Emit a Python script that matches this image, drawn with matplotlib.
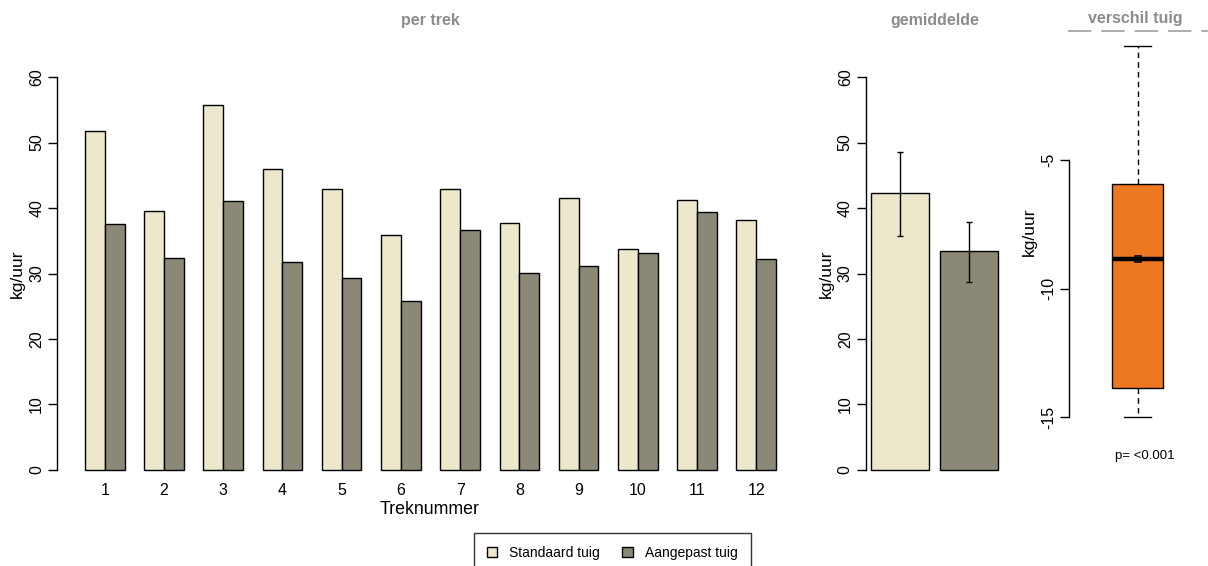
import numpy as np
import matplotlib
matplotlib.use('Agg')
import matplotlib.pyplot as plt
from matplotlib.patches import Patch
from matplotlib.lines import Line2D

plt.rcParams['font.family'] = ['Liberation Sans', 'DejaVu Sans']
plt.rcParams['axes.unicode_minus'] = False

# DATA
treks = [str(i) for i in range(1, 13)]
standaard = [51.7, 39.6, 55.8, 46.0, 42.9, 35.9, 42.9, 37.7, 41.5, 33.8, 41.2, 38.1]
aangepast = [37.5, 32.4, 41.0, 31.8, 29.3, 25.8, 36.7, 30.1, 31.1, 33.2, 39.4, 32.2]
gem_labels = ['Standaard tuig', 'Aangepast tuig']
gem_waarde = [42.3, 33.4]
gem_laag = [35.8, 28.7]
gem_hoog = [48.5, 37.8]
# boxplot of the difference
verschil_stats = dict(med=-8.85, q1=-13.87, q3=-5.94, whislo=-15.0, whishi=-0.57)
verschil_gem = -8.85
p_tekst = 'p= <0.001'

# COLOURS
C_STD = '#EDE7CB'
C_AAN = '#8B8877'
C_ORANJE = '#EE7722'
C_TITEL = '#8C8C8C'

W, H = 1208, 566
fig = plt.figure(figsize=(W / 100, H / 100), dpi=100)


def add_ax(x0, x1, y0, y1):
    # pixel box -> figure fraction
    return fig.add_axes([x0 / W, 1 - y1 / H, (x1 - x0) / W, (y1 - y0) / H])


def style(ax):
    for s in ['top', 'right', 'bottom']:
        ax.spines[s].set_visible(False)
    ax.spines['left'].set_linewidth(1.0)
    ax.tick_params(axis='y', length=6.5, width=1.0, labelsize=11.5, pad=3)
    for lab in ax.get_yticklabels():
        lab.set_rotation(90)
        lab.set_va('center')


# ---- per trek ----
ax1 = add_ax(57.4, 803.6, 61.3, 485.7)
x = np.arange(len(treks)) * 3 + 1
ax1.bar(x, standaard, width=1, align='edge', color=C_STD, edgecolor='black', linewidth=1.0)
ax1.bar(x + 1, aangepast, width=1, align='edge', color=C_AAN, edgecolor='black', linewidth=1.0)
ax1.set_xlim(-0.4, 37.4)
ax1.set_ylim(-2.4, 62.4)
ax1.set_yticks(range(0, 61, 10))
ax1.spines['left'].set_bounds(0, 60)
ax1.set_xticks(x + 1)
ax1.set_xticklabels(treks, fontsize=11.5)
ax1.tick_params(axis='x', length=0, pad=-2)
style(ax1)
ax1.set_ylabel('kg/uur', fontsize=12.5, labelpad=3)
fig.text(430 / W, 1 - 509 / H, 'Treknummer', ha='center', va='center', fontsize=12.8)
fig.text(430 / W, 1 - 20 / H, 'per trek', ha='center', va='center', fontsize=11.5,
         fontweight='bold', color=C_TITEL)

# ---- gemiddelde ----
ax2 = add_ax(866, 1003, 61.3, 485.7)
xb = np.array([0.2, 1.4])
ax2.bar(xb, gem_waarde, width=1, align='edge', color=[C_STD, C_AAN], edgecolor='black', linewidth=1.0)
xc = xb + 0.5
err = [np.array(gem_waarde) - np.array(gem_laag), np.array(gem_hoog) - np.array(gem_waarde)]
ax2.errorbar(xc, gem_waarde, yerr=err, fmt='none', ecolor='black', elinewidth=1, capsize=2)
ax2.set_xlim(0.112, 2.488)
ax2.set_ylim(-2.4, 62.4)
ax2.set_yticks(range(0, 61, 10))
ax2.spines['left'].set_bounds(0, 60)
ax2.set_xticks([])
style(ax2)
ax2.set_ylabel('kg/uur', fontsize=12.5, labelpad=3)
fig.text(935 / W, 1 - 20 / H, 'gemiddelde', ha='center', va='center', fontsize=11.5,
         fontweight='bold', color=C_TITEL)

# ---- verschil tuig ----
ax3 = add_ax(1069, 1206, 31, 432)
stats = dict(verschil_stats, fliers=[], label='')
ax3.bxp([stats], positions=[0.5], widths=0.377, capwidths=0.19, patch_artist=True,
        boxprops=dict(facecolor=C_ORANJE, edgecolor='black', linewidth=1.0),
        whiskerprops=dict(color='black', linestyle=(0, (4, 3)), linewidth=1.0),
        capprops=dict(color='black', linewidth=1.0),
        medianprops=dict(color='black', linewidth=3.2, solid_capstyle='butt'),
        showfliers=False)
ax3.plot([0.5], [verschil_gem], marker='s', ms=4, mfc='white', mec='black', mew=1.2)
ax3.set_xlim(0, 1)
ax3.set_ylim(-15.57, 0.013)
ax3.set_yticks([-15, -10, -5])
ax3.spines['left'].set_bounds(-15, -5)
ax3.set_xticks([])
style(ax3)
ax3.set_ylabel('kg/uur', fontsize=12.5, labelpad=3)
fig.text(1135 / W, 1 - 19 / H, 'verschil tuig', ha='center', va='center', fontsize=11.5,
         fontweight='bold', color=C_TITEL)
fig.add_artist(Line2D([1068 / W, 1208 / W], [1 - 31 / H, 1 - 31 / H], transform=fig.transFigure,
                      color='#A0A0A0', linewidth=1.2, linestyle=(0, (14, 6))))
fig.text(1145 / W, 1 - 456 / H, p_tekst, ha='center', va='center', fontsize=9.5)

# ---- legend ----
handles = [Patch(facecolor=C_STD, edgecolor='black', linewidth=1.0),
           Patch(facecolor=C_AAN, edgecolor='black', linewidth=1.0)]
leg = fig.legend(handles, gem_labels, loc='upper left', bbox_to_anchor=(474 / W, 1 - 533 / H),
                 ncol=2, frameon=True, fancybox=False, fontsize=10, handlelength=0.75,
                 handleheight=0.75, handletextpad=0.9, columnspacing=1.6, borderpad=0.9,
                 borderaxespad=0)
leg.get_frame().set_edgecolor('black')
leg.get_frame().set_linewidth(1.0)

fig.savefig('out.png', dpi=100)
